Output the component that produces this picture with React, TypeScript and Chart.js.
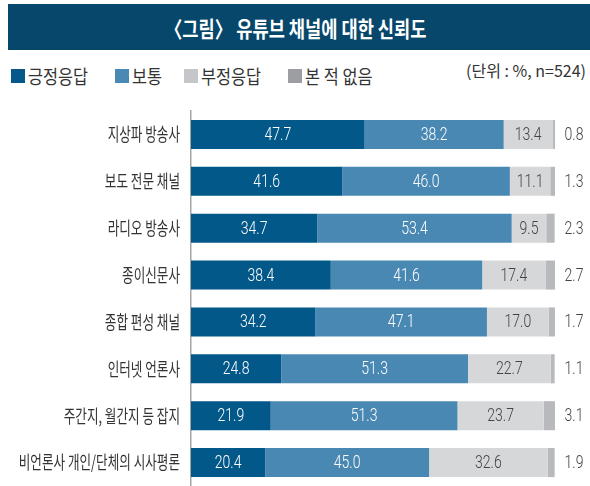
import React, { useEffect, useRef } from "react";
import { Chart, registerables } from "chart.js";

Chart.register(...registerables);

const titleText = "〈그림〉 유튜브 채널에 대한 신뢰도";
const unitText = "(단위 : %, n=524)";
const categories = [
  "지상파 방송사",
  "보도 전문 채널",
  "라디오 방송사",
  "종이신문사",
  "종합 편성 채널",
  "인터넷 언론사",
  "주간지, 월간지 등 잡지",
  "비언론사 개인/단체의 시사평론",
];
const seriesNames = ["긍정응답", "보통", "부정응답", "본 적 없음"];
const positive = [47.7, 41.6, 34.7, 38.4, 34.2, 24.8, 21.9, 20.4];
const neutral = [38.2, 46.0, 53.4, 41.6, 47.1, 51.3, 51.3, 45.0];
const negative = [13.4, 11.1, 9.5, 17.4, 17.0, 22.7, 23.7, 32.6];
const neverSeen = [0.8, 1.3, 2.3, 2.7, 1.7, 1.1, 3.1, 1.9];

const barColors = ["#03588a", "#4a88b4", "#d6d7d9", "#b8b9bc"];
const legendColors = ["#04588a", "#4a89b4", "#c5c6c9", "#9d9ea1"];
const labelColors = ["#ffffff", "#ffffff", "#444444", "#444444"];

const NUM_FONT = 'Roboto, "Liberation Sans", sans-serif';
const KR_FONT = '"Noto Sans CJK KR", "Noto Sans", sans-serif';

const labelsPlugin = {
  id: "customLabels",
  afterDraw(chart: any) {
    const ctx = chart.ctx;
    const yScale = chart.scales.y;
    // category labels
    ctx.save();
    ctx.fillStyle = "#333333";
    ctx.font = `18px ${KR_FONT}`;
    ctx.textAlign = "right";
    ctx.textBaseline = "middle";
    categories.forEach((c, i) => {
      const y = yScale.getPixelForValue(i);
      ctx.save();
      ctx.translate(180, y);
      ctx.scale(0.7, 1);
      ctx.fillText(c, 0, 0);
      ctx.restore();
    });
    ctx.restore();

    // value labels
    ctx.save();
    ctx.font = `300 18px ${NUM_FONT}`;
    ctx.textBaseline = "middle";
    ctx.textAlign = "center";
    chart.data.datasets.forEach((ds: any, d: number) => {
      const meta = chart.getDatasetMeta(d);
      meta.data.forEach((el: any, i: number) => {
        const v = ds.data[i];
        const txt = v.toFixed(1);
        ctx.fillStyle = labelColors[d];
        const cx = d < 3 ? (el.x + el.base) / 2 : chart.chartArea.right + 19;
        ctx.save();
        ctx.translate(cx, el.y + 1);
        ctx.scale(0.78, 1);
        ctx.fillText(txt, 0, 0);
        ctx.restore();
      });
    });
    ctx.restore();
  },
};

export default function App() {
  const ref = useRef<HTMLCanvasElement | null>(null);

  useEffect(() => {
    if (!ref.current) return;
    const chart = new Chart(ref.current, {
      type: "bar",
      data: {
        labels: categories,
        datasets: [positive, neutral, negative, neverSeen].map((arr, i) => ({
          label: seriesNames[i],
          data: arr,
          backgroundColor: barColors[i],
          borderWidth: 0,
          barPercentage: 0.62,
          categoryPercentage: 1,
        })),
      },
      options: {
        indexAxis: "y",
        responsive: false,
        animation: false,
        layout: { padding: { top: 11, bottom: 0, left: 0, right: 35 } },
        plugins: {
          legend: { display: false },
          tooltip: { enabled: false },
          title: { display: false },
        },
        scales: {
          x: {
            stacked: true,
            min: 0,
            max: 100,
            display: false,
          },
          y: {
            stacked: true,
            grid: { display: false, drawTicks: false },
            border: { display: true, color: "#a6a6a6", width: 1.5 },
            ticks: { display: false },
            afterFit: (scale: any) => {
              scale.width = 191;
            },
          },
        },
      },
      plugins: [labelsPlugin],
    } as any);
    return () => chart.destroy();
  }, []);

  const legendX = [11, 115, 184, 288];
  const legendScale = 0.86;

  return (
    <div
      style={{
        position: "fixed",
        left: 0,
        top: 0,
        width: 590,
        height: 486,
        background: "#ffffff",
        overflow: "hidden",
        fontFamily: KR_FONT,
      }}
    >
      <div
        style={{
          position: "absolute",
          left: 8,
          top: 4,
          width: 582,
          height: 46,
          background: "#07476b",
        }}
      />
      <div
        style={{
          position: "absolute",
          left: 0,
          top: 4,
          width: 592,
          height: 46,
          display: "flex",
          alignItems: "center",
          justifyContent: "center",
        }}
      >
        <span
          style={{
            color: "#ffffff",
            fontWeight: 700,
            fontSize: 22,
            transform: "scaleX(0.8)",
            whiteSpace: "nowrap",
            display: "inline-block",
          }}
        >
          {titleText}
        </span>
      </div>

      {seriesNames.map((name, i) => (
        <React.Fragment key={name}>
          <div
            style={{
              position: "absolute",
              left: legendX[i],
              top: 69,
              width: 14,
              height: 14,
              background: legendColors[i],
            }}
          />
          <div
            style={{
              position: "absolute",
              left: legendX[i] + 17,
              top: 64,
              height: 24,
              lineHeight: "24px",
              fontSize: 19,
              color: "#333333",
              whiteSpace: "nowrap",
              transform: `scaleX(${legendScale})`,
              transformOrigin: "left center",
            }}
          >
            {name}
          </div>
        </React.Fragment>
      ))}
      <div
        style={{
          position: "absolute",
          right: 4,
          top: 58,
          height: 24,
          lineHeight: "24px",
          fontSize: 16,
          color: "#333333",
          whiteSpace: "nowrap",
        }}
      >
        {unitText}
      </div>

      <canvas
        ref={ref}
        width={590}
        height={386}
        style={{ position: "absolute", left: 0, top: 100, width: 590, height: 386 }}
      />
    </div>
  );
}
